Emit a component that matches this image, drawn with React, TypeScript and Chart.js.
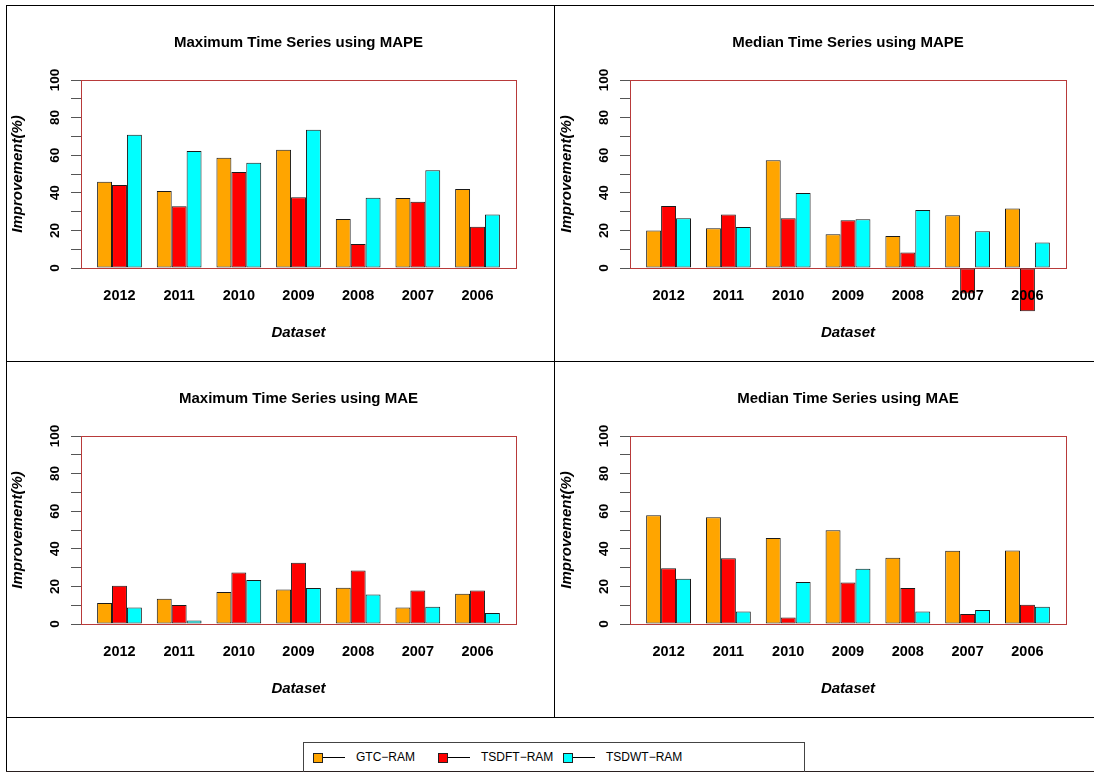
import React, { useEffect, useRef } from "react";
import { Chart, registerables } from "chart.js";

Chart.register(...registerables);
Chart.defaults.font.family = "'Liberation Sans', Arial, Helvetica, sans-serif";

// ---------- data ----------
const years = ["2012", "2011", "2010", "2009", "2008", "2007", "2006"];
const seriesNames = ["GTC\u2212RAM", "TSDFT\u2212RAM", "TSDWT\u2212RAM"];
const seriesColors = ["#FFA500", "#FF0000", "#00FFFF"];

const maxMapeGTC = [45.9, 41.0, 58.7, 62.9, 26.1, 37.2, 42.0];
const maxMapeTSDFT = [44.1, 32.8, 51.1, 37.6, 12.8, 35.3, 22.0];
const maxMapeTSDWT = [70.9, 62.2, 56.0, 73.6, 37.4, 52.0, 28.5];

const medMapeGTC = [19.9, 21.1, 57.3, 17.9, 17.0, 28.0, 31.7];
const medMapeTSDFT = [33.0, 28.4, 26.4, 25.4, 8.3, -13.5, -23.0];
const medMapeTSDWT = [26.4, 21.8, 39.9, 25.9, 30.9, 19.5, 13.5];

const maxMaeGTC = [11.2, 13.4, 17.0, 18.4, 19.3, 8.8, 16.1];
const maxMaeTSDFT = [20.3, 10.1, 27.4, 32.6, 28.5, 17.8, 17.8];
const maxMaeTSDWT = [8.8, 1.9, 23.4, 19.1, 15.7, 9.2, 5.8];

const medMaeGTC = [57.9, 56.8, 45.7, 49.9, 35.2, 38.9, 39.1];
const medMaeTSDFT = [29.7, 35.0, 3.5, 22.1, 19.1, 5.3, 10.2];
const medMaeTSDWT = [24.1, 6.7, 22.3, 29.4, 6.7, 7.4, 9.2];

const yMin = 0;
const yMax = 100;
const yStep = 10;
const yLabelEvery = 20;

const xAxisTitle = "Dataset";
const yAxisTitle = "Improvement(%)";

// barplot-like layout (R: bars of width 1, groups separated by 1)
const GROUP_FIRST_CENTER = 2.5;
const GROUP_STEP = 4;
const X_MIN = -0.08;
const X_MAX = 29.08;

const CANVAS_W = 547;
const CANVAS_H = 354;

const plotBox = {
  id: "plotBox",
  beforeDatasetsDraw(chart: any) {
    const { ctx, chartArea: a } = chart;
    ctx.save();
    ctx.strokeStyle = "#B83A3A";
    ctx.lineWidth = 1;
    ctx.strokeRect(
      Math.round(a.left) + 0.5,
      Math.round(a.top) + 0.5,
      Math.round(a.right - a.left),
      Math.round(a.bottom - a.top)
    );
    ctx.restore();
  },
};

type PanelProps = {
  title: string;
  series: number[][];
  left: number;
  top: number;
  rightPad: number;
};

function Panel({ title, series, left, top, rightPad }: PanelProps) {
  const ref = useRef<HTMLCanvasElement>(null);
  useEffect(() => {
    const chart = new Chart(ref.current as HTMLCanvasElement, {
      type: "bar",
      data: {
        datasets: series.map((vals, s) => ({
          label: seriesNames[s],
          data: vals.map((v, i) => ({ x: GROUP_FIRST_CENTER + GROUP_STEP * i, y: v })),
          backgroundColor: seriesColors[s],
          borderColor: "#1a1a1a",
          borderWidth: 1,
          borderSkipped: false,
          barPercentage: 1,
          categoryPercentage: 0.75,
          clip: false,
        })),
      } as any,
      options: {
        responsive: false,
        animation: false,
        layout: { padding: { left: 0, right: rightPad, top: 0, bottom: 0 } },
        plugins: {
          legend: { display: false },
          tooltip: { enabled: false },
          title: {
            display: true,
            text: title,
            fullSize: false,
            color: "#000",
            font: { size: 15, weight: "bold" },
            padding: { top: 28.3, bottom: 27.7 },
          },
        },
        scales: {
          x: {
            type: "linear",
            min: X_MIN,
            max: X_MAX,
            bounds: "data",
            offset: false,
            grid: { display: false, drawTicks: false },
            border: { display: false },
            afterBuildTicks: (s: any) => {
              s.ticks = years.map((_, i) => ({ value: GROUP_FIRST_CENTER + GROUP_STEP * i }));
            },
            afterFit: (s: any) => {
              s.height = 92;
            },
            ticks: {
              z: 1,
              autoSkip: false,
              maxRotation: 0,
              minRotation: 0,
              padding: 19,
              color: "#000",
              font: { size: 14.5, weight: "bold" },
              callback: (_v: any, i: number) => years[i],
            },
            title: {
              display: true,
              text: xAxisTitle,
              color: "#000",
              font: { size: 15, weight: "bold", style: "italic" },
              padding: { top: 0, bottom: 18.3 },
            },
          },
          y: {
            min: yMin,
            max: yMax,
            afterFit: (s: any) => {
              s.width = 74;
            },
            grid: {
              display: true,
              drawOnChartArea: false,
              drawTicks: true,
              tickLength: 10,
              color: "#555",
              lineWidth: 1,
            },
            border: { display: true, color: "#555" },
            ticks: {
              stepSize: yStep,
              autoSkip: false,
              minRotation: 90,
              maxRotation: 90,
              crossAlign: "center",
              padding: 4.3,
              color: "#000",
              font: { size: 13.5, weight: "bold" },
              callback: (v: any) => (Number(v) % yLabelEvery === 0 ? String(v) : ""),
            },
            title: {
              display: true,
              text: yAxisTitle,
              color: "#000",
              font: { size: 15, weight: "bold", style: "italic" },
              padding: { top: 2, bottom: 0 },
            },
          },
        },
      } as any,
      plugins: [plotBox],
    });
    return () => chart.destroy();
  }, []);
  return (
    <canvas
      ref={ref}
      width={CANVAS_W}
      height={CANVAS_H}
      style={{ position: "absolute", left, top, width: CANVAS_W, height: CANVAS_H }}
    />
  );
}

const line = (l: number, t: number, w: number, h: number, color = "#000") => (
  <div style={{ position: "absolute", left: l, top: t, width: w, height: h, background: color }} />
);

function LegendItem({ x, color, label }: { x: number; color: string; label: string }) {
  return (
    <>
      {line(x + 9, 757, 23, 1, "#000")}
      <div
        style={{
          position: "absolute",
          left: x,
          top: 753,
          width: 8,
          height: 8,
          background: color,
          border: "1px solid #222",
        }}
      />
      <div
        style={{
          position: "absolute",
          left: x + 43,
          top: 749,
          height: 17,
          lineHeight: "17px",
          fontFamily: "'Liberation Sans', Arial, sans-serif",
          fontSize: 12,
          color: "#000",
          whiteSpace: "nowrap",
        }}
      >
        {label}
      </div>
    </>
  );
}

export default function App() {
  return (
    <div
      style={{
        position: "absolute",
        left: 0,
        top: 0,
        width: 1094,
        height: 772,
        background: "#fff",
        overflow: "hidden",
      }}
    >
      <Panel
        title="Maximum Time Series using MAPE"
        series={[maxMapeGTC, maxMapeTSDFT, maxMapeTSDWT]}
        left={7}
        top={6}
        rightPad={38}
      />
      <Panel
        title="Median Time Series using MAPE"
        series={[medMapeGTC, medMapeTSDFT, medMapeTSDWT]}
        left={556}
        top={6}
        rightPad={37}
      />
      <Panel
        title="Maximum Time Series using MAE"
        series={[maxMaeGTC, maxMaeTSDFT, maxMaeTSDWT]}
        left={7}
        top={362}
        rightPad={38}
      />
      <Panel
        title="Median Time Series using MAE"
        series={[medMaeGTC, medMaeTSDFT, medMaeTSDWT]}
        left={556}
        top={362}
        rightPad={37}
      />
      {/* frame and dividers */}
      {line(6, 5, 1088, 1)}
      {line(6, 5, 1, 767)}
      {line(6, 771, 1088, 1, "#2a2020")}
      {line(6, 361, 1088, 1)}
      {line(6, 717, 1088, 1)}
      {line(554, 5, 1, 712)}
      {/* legend */}
      <div
        style={{
          position: "absolute",
          left: 303,
          top: 742,
          width: 502,
          height: 30,
          borderTop: "1px solid #444",
          borderLeft: "1px solid #444",
          borderRight: "1px solid #444",
          boxSizing: "border-box",
        }}
      />
      <LegendItem x={313} color={seriesColors[0]} label={seriesNames[0]} />
      <LegendItem x={438} color={seriesColors[1]} label={seriesNames[1]} />
      <LegendItem x={563} color={seriesColors[2]} label={seriesNames[2]} />
    </div>
  );
}
